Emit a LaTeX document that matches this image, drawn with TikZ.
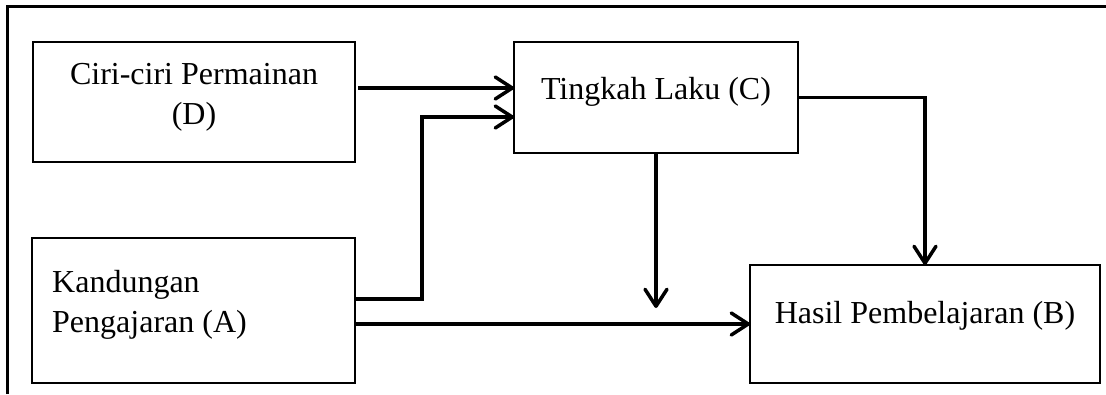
\documentclass[tikz,border=0pt]{standalone}
\usepackage{fontspec}
\setmainfont{Liberation Serif}
\usetikzlibrary{arrows.meta}
\begin{document}
\begin{tikzpicture}[x=1pt,y=1pt,
  box/.style={draw, line width=2.5pt, inner sep=0pt, outer sep=0pt},
  txt/.style={inner sep=0pt, font=\fontsize{32}{40}\selectfont},
  conn/.style={line width=3.5pt, -{Straight Barb[length=17pt,width=22pt,round]}},
  plain/.style={line width=3.5pt}]
\useasboundingbox (0,0) rectangle (1106,-394);
% outer frame (top and left edges visible)
\draw[line width=3pt] (7,-394) -- (7,-6.5) -- (1110,-6.5);
% boxes
\node[box, minimum width=322pt, minimum height=120pt] (D) at (194,-102) {};
\node[box, minimum width=284pt, minimum height=111pt] (C) at (656,-97.5) {};
\node[box, minimum width=323pt, minimum height=145pt] (A) at (193.5,-310.5) {};
\node[box, minimum width=350pt, minimum height=118pt] (B) at (925,-324) {};
% texts
\node[txt, align=center, anchor=north] (Dt) at (194,-63) {Ciri-ciri Permainan\\(D)};
\node[txt, anchor=base] (Ct) at (656,-99) {Tingkah Laku (C)};
\node[txt, align=left, anchor=north west] (At) at (52,-270) {Kandungan\\Pengajaran (A)};
\node[txt, anchor=base] (Bt) at (925,-323) {Hasil Pembelajaran (B)};
% connectors
\coordinate (d1) at (358,-88);
\draw[conn] (d1) -- (d1 -| C.west);
\coordinate (a1) at (A.east |- 0,-299);
\coordinate (k1) at (422,-299);
\coordinate (k2) at (422,-117);
\draw[conn] (a1) -- (k1) -- (k2) -- (k2 -| C.west);
\coordinate (a2) at (A.east |- 0,-324);
\draw[conn] (a2) -- (a2 -| B.west);
\coordinate (c1) at (C.south |- 0,-308);
\draw[conn] (C.south) -- (c1);
\coordinate (k3) at (B.north |- C.east);
\draw[conn] (C.east) -- (k3) -- (B.north);
\end{tikzpicture}
\end{document}
